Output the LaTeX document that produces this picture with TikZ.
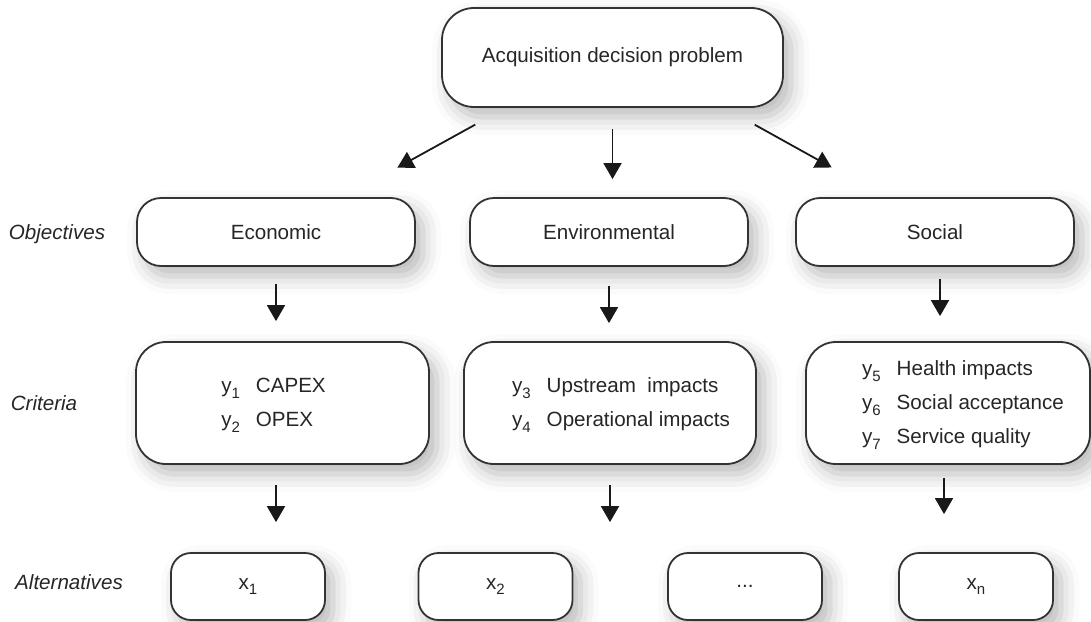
\documentclass[tikz,border=0pt]{standalone}
\usepackage{fontspec}
\setmainfont{Liberation Sans}
\usepackage{tikz}
\usetikzlibrary{arrows.meta,positioning,shadows.blur}

\newcommand{\lowidx}[1]{\raisebox{-2.6pt}{\fontsize{7.5}{7.5}\selectfont #1}}

\begin{document}
\begin{tikzpicture}[
  x=0.5pt, y=-0.5pt,
  font=\fontsize{10.3}{17}\selectfont,
  base/.style={draw=black!80, line width=0.9pt, fill=white, align=center,
               inner sep=0pt, text=black!85,
               blur shadow={shadow xshift=4pt, shadow yshift=-5pt,
                            shadow blur radius=9pt, shadow opacity=28}},
  prob/.style={base, rounded corners=16pt, minimum width=170.5pt, minimum height=49.5pt},
  goal/.style={base, rounded corners=12pt, minimum width=139pt, minimum height=34pt},
  crit/.style={base, rounded corners=15pt, minimum height=61pt},
  alt/.style={base, rounded corners=10pt, minimum width=77pt, minimum height=33.5pt},
  lab/.style={font=\fontsize{10.3}{17}\selectfont\itshape, text=black!85},
  arr/.style={-{Triangle[length=8pt,width=9pt]}, line width=0.9pt, draw=black!90}
]
\useasboundingbox (0,0) rectangle (1091,621);

% top
\node[prob] (problem) at (612.5,57.5) {Acquisition decision problem};

% objectives
\node[lab] (objlab) at (57,234) {Objectives};
\node[goal] (econ) at (276,232) {Economic};
\node[goal] (env) at (609,232) {Environmental};
\node[goal] (soc) at (935,232) {Social};

% criteria
\node[lab] (critlab) at (44,403) {Criteria};
\node[crit, minimum width=146.5pt] (econcrit) at (282.5,403)
  {\begin{tabular}{@{}l@{\hspace{8pt}}l@{}}
   y\lowidx{1} & CAPEX\\
   y\lowidx{2} & OPEX
   \end{tabular}\hspace*{9pt}};
\node[crit, minimum width=146pt] (envcrit) at (610,403)
  {\hspace*{11pt}\begin{tabular}{@{}l@{\hspace{8pt}}l@{}}
   y\lowidx{3} & Upstream~ impacts\\
   y\lowidx{4} & Operational impacts
   \end{tabular}};
\node[crit, minimum width=142pt] (soccrit) at (948,403)
  {\hspace*{15pt}\begin{tabular}{@{}l@{\hspace{8pt}}l@{}}
   y\lowidx{5} & Health impacts\\
   y\lowidx{6} & Social acceptance\\
   y\lowidx{7} & Service quality
   \end{tabular}};

% alternatives
\node[lab] (altlab) at (69,582) {Alternatives};
\node[alt] (xone) at (248,586.5) {x\lowidx{1}};
\node[alt] (xtwo) at (495.5,586.5) {x\lowidx{2}};
\node[alt] (xdots) at (745,586.5) {...};
\node[alt] (xn) at (976,586.5) {x\lowidx{n}};

% arrows
\draw[arr, shorten <=17.3pt, shorten >=30.5pt]
  ([xshift=-53.5pt]problem.south) -- ([xshift=34pt]econ.north);
\draw[arr, shorten <=10.5pt, shorten >=9pt] (problem.south) -- (problem.south |- env.north);
\draw[arr, shorten <=17.3pt, shorten >=30.5pt]
  ([xshift=56pt]problem.south) -- ([xshift=-25pt]soc.north);

\draw[arr, shorten <=8.5pt, shorten >=10pt] (econ.south) -- (econ.south |- econcrit.north);
\draw[arr, shorten <=9.5pt, shorten >=9pt] (env.south) -- (env.south |- envcrit.north);
\draw[arr, shorten <=6pt, shorten >=12.5pt] ([xshift=2.5pt]soc.south) -- ([xshift=2.5pt]soc.south |- soccrit.north);

\draw[arr, shorten <=10pt, shorten >=15pt] (econ.south |- econcrit.south) -- (econ.south |- xone.north);
\draw[arr, shorten <=10pt, shorten >=15pt] (envcrit.south) -- (envcrit.south |- xtwo.north);
\draw[arr, shorten <=6.5pt, shorten >=19pt] ([xshift=-2pt]soccrit.south) -- ([xshift=-2pt]soccrit.south |- xn.north);
\end{tikzpicture}
\end{document}
